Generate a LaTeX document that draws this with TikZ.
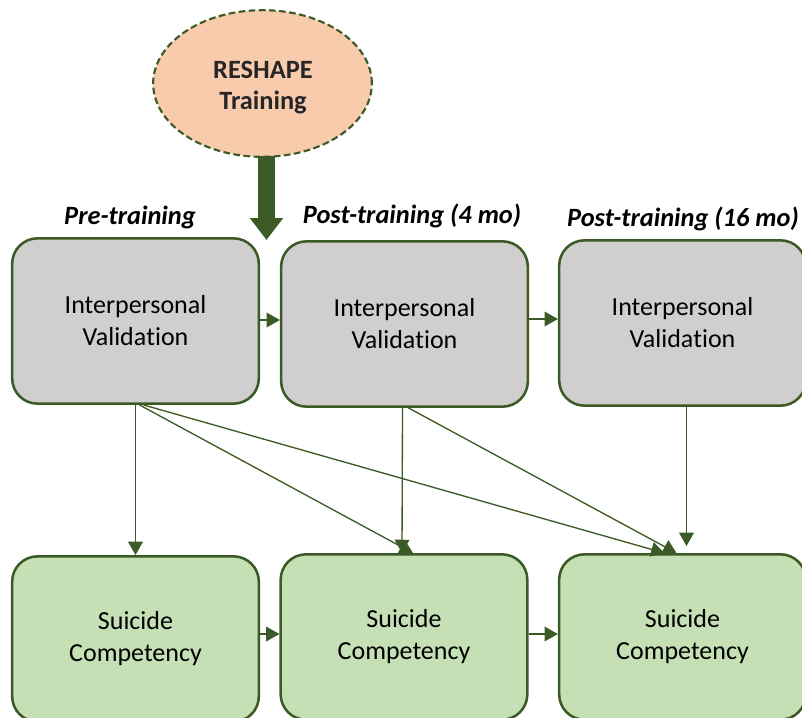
\documentclass[tikz,border=0pt]{standalone}
\usepackage{fontspec}
\setmainfont[Ligatures=NoCommon,RawFeature=-liga]{Carlito}
\usetikzlibrary{arrows.meta,shapes.geometric,calc}
\definecolor{edgegreen}{HTML}{3B5A26}
\definecolor{boxgray}{HTML}{D0CECE}
\definecolor{boxgreen}{HTML}{C5E0B4}
\definecolor{peach}{HTML}{F8CBAD}
\definecolor{darktext}{HTML}{262626}
\newcommand{\ivtext}{Interpersonal\\Valida\kern0pt tion}
\newcommand{\sctext}{Suicide\\Competency}
\tikzset{
  measurebox/.style={draw=edgegreen, line width=1.9pt, rounded corners=19pt,
    minimum width=185pt, minimum height=124pt, align=center,
    font=\fontsize{19.5}{24}\selectfont, text=black},
  ivbox/.style={measurebox, fill=boxgray},
  scbox/.style={measurebox, fill=boxgreen},
  wavelabel/.style={anchor=base, font=\fontsize{19.8}{24}\selectfont\bfseries\itshape},
  conn/.style={draw=edgegreen, line width=1pt,
    -{Triangle[length=10pt,width=11pt]}},
}
\begin{document}
\begin{tikzpicture}[x=0.75pt,y=-0.75pt]
\useasboundingbox (0,0) rectangle (802,717);
\clip (0,0) rectangle (802,717);

% training intervention
\node[ellipse, draw=edgegreen, line width=1.6pt, dash pattern=on 5pt off 2.6pt,
  fill=peach, minimum width=164pt, minimum height=110pt]
  (E) at (262.5,83.5) {};
\node[align=center, text=darktext,
  font=\fontsize{19.8}{23.5}\selectfont\bfseries]
  (ET) at ($(E.center)+(0.5,4)$) {RESHAPE\\Training};
\coordinate (tip) at (266.5,240);
\draw[edgegreen, line width=12.75pt, -{Triangle[length=16.5pt,width=24pt]}]
  ($(E.south)+(4,-2)$) -- (tip);

% wave labels
\node[wavelabel] (L1) at (130,224) {Pre-training};
\node[wavelabel] (L2) at (412,223) {Post-training (4 mo)};
\node[wavelabel] (L3) at (683,226) {Post-training (16 mo)};

% measures
\node[ivbox] (A1) at (135.5,321) {\ivtext};
\node[ivbox] (A2) at (404.5,324) {\ivtext};
\node[ivbox] (A3) at (682.5,323) {\ivtext};
\node[scbox] (B1) at (135.5,639) {\sctext};
\node[scbox] (B2) at (404,637) {\sctext};
\node[scbox] (B3) at (682.5,637) {\sctext};

% stability paths
\draw[conn] ($(A1.east)+(0,-1)$) coordinate (a1e) -- (a1e -| A2.west);
\draw[conn] ($(A2.east)+(0,-5)$) coordinate (a2e) -- (a2e -| A3.west);
\draw[conn] ($(B1.east)+(0,-5)$) coordinate (b1e) -- (b1e -| B2.west);
\draw[conn] ($(B2.east)+(0,-3)$) coordinate (b2e) -- (b2e -| B3.west);

% cross paths
\draw[conn] (A1.south) -- (B1.north);
\draw[conn] ($(A1.south)+(4,0)$) -- ($(B2.north)+(9,0)$);
\draw[conn] ($(A1.south)+(8,0)$) -- ($(B3.north)+(-18,0)$);
\draw[conn] ($(A2.south)+(-2,0)$) -- ($(B2.north)+(-2,0)$);
\draw[conn] ($(A2.south)+(4,0)$) -- ($(B3.north)+(-6,0)$);
\draw[conn] ($(A3.south)+(4,0)$) -- ($(B3.north)+(4,-7)$);
\end{tikzpicture}
\end{document}
